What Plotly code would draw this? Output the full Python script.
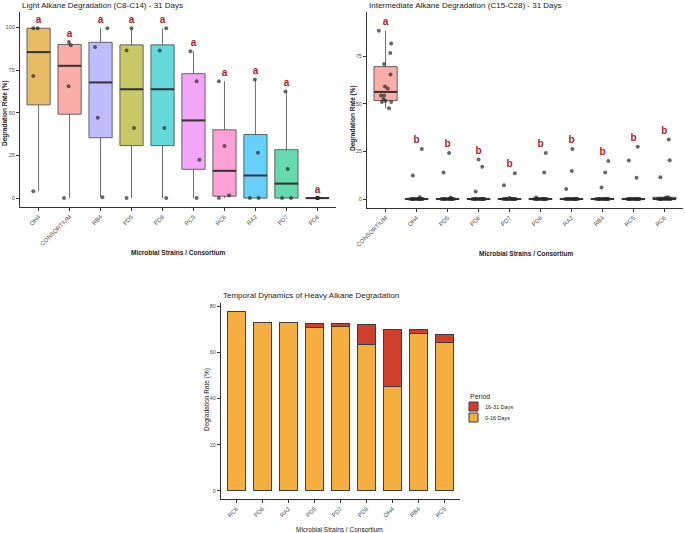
import numpy as np
import plotly.graph_objects as go

# ---------------- DATA ----------------
# Panel 1: Light alkane degradation (C8-C14), 31 days
light_categories = ["OH4", "CONSORTIUM", "RB4", "PD5", "PD8", "RC5", "RC6", "RA2", "PD7", "PD6"]
light_OH4 = [99.5, 99.5, 71.5, 4.0]
light_CONSORTIUM = [91.5, 89.5, 65.5, 0.0]
light_RB4 = [99.5, 88.5, 47.0, 0.5]
light_PD5 = [99.5, 86.5, 41.0, 0.0]
light_PD8 = [99.5, 86.5, 41.0, 0.0]
light_RC5 = [86.0, 68.5, 22.5, 0.0]
light_RC6 = [68.5, 30.5, 1.5, 0.0]
light_RA2 = [69.5, 26.5, 0.0, 0.0]
light_PD7 = [62.5, 17.0, 0.0, 0.0]
light_PD6 = [0.0, 0.0, 0.0, 0.0]
light_letters = ["a", "a", "a", "a", "a", "a", "a", "a", "a", "a"]

# Panel 2: Intermediate alkane degradation (C15-C28), 31 days
inter_categories = ["CONSORTIUM", "OH4", "PD5", "PD6", "PD7", "PD8", "RA2", "RB4", "RC5", "RC6"]
inter_CONSORTIUM = [88.4, 81.7, 76.7, 70.9, 65.4, 59.1, 58.1, 54.4, 54.4, 52.5, 50.9, 50.9, 47.7, 51.5]
inter_OH4 = [26.3, 12.3, 1.0, 0.0, 0.0, 0.0, 0.0, 0.0, 0.0, 0.0, 0.0, 0.0, 0.0, 0.0]
inter_PD5 = [24.2, 14.0, 0.8, 0.0, 0.0, 0.0, 0.0, 0.0, 0.0, 0.0, 0.0, 0.0, 0.0, 0.0]
inter_PD6 = [20.7, 17.0, 4.0, 0.0, 0.0, 0.0, 0.0, 0.0, 0.0, 0.0, 0.0, 0.0, 0.0, 0.0]
inter_PD7 = [13.5, 7.2, 0.5, 0.0, 0.0, 0.0, 0.0, 0.0, 0.0, 0.0, 0.0, 0.0, 0.0, 0.0]
inter_PD8 = [24.2, 14.0, 0.8, 0.0, 0.0, 0.0, 0.0, 0.0, 0.0, 0.0, 0.0, 0.0, 0.0, 0.0]
inter_RA2 = [26.3, 14.7, 5.3, 0.0, 0.0, 0.0, 0.0, 0.0, 0.0, 0.0, 0.0, 0.0, 0.0, 0.0]
inter_RB4 = [20.0, 14.0, 6.0, 0.0, 0.0, 0.0, 0.0, 0.0, 0.0, 0.0, 0.0, 0.0, 0.0, 0.0]
inter_RC5 = [27.4, 20.2, 11.2, 0.0, 0.0, 0.0, 0.0, 0.0, 0.0, 0.0, 0.0, 0.0, 0.0, 0.0]
inter_RC6 = [31.2, 20.4, 11.4, 1.0, 0.8, 0.0, 0.0, 0.0, 0.0, 0.0, 0.0, 0.0, 0.0, 0.0]
inter_letters = ["a", "b", "b", "b", "b", "b", "b", "b", "b", "b"]

# Panel 3: Temporal dynamics of heavy alkane degradation
heavy_categories = ["RC6", "PD6", "RA2", "PD5", "PD7", "PD8", "OH4", "RB4", "RC5"]
heavy_0_16 = [77.7, 72.9, 72.9, 70.6, 71.4, 63.5, 45.1, 68.0, 64.1]
heavy_16_31 = [0.0, 0.0, 0.0, 1.8, 0.9, 8.5, 24.9, 1.8, 3.6]
period_labels = ["16-31 Days", "0-16 Days"]

light_groups = [light_OH4, light_CONSORTIUM, light_RB4, light_PD5, light_PD8,
                light_RC5, light_RC6, light_RA2, light_PD7, light_PD6]
inter_groups = [inter_CONSORTIUM, inter_OH4, inter_PD5, inter_PD6, inter_PD7,
                inter_PD8, inter_RA2, inter_RB4, inter_RC5, inter_RC6]

# ---------------- POSITIONS / STYLES ----------------
light_jitter = [
    [-0.17, -0.03, -0.17, -0.17],
    [-0.02, 0.04, -0.03, -0.18],
    [0.22, -0.18, -0.09, 0.06],
    [0.0, -0.16, 0.08, -0.16],
    [0.12, -0.09, 0.06, 0.12],
    [-0.10, 0.10, 0.19, 0.10],
    [-0.18, 0.0, 0.15, -0.18],
    [-0.02, 0.08, -0.18, 0.10],
    [-0.03, 0.04, -0.14, 0.15],
    [-0.02, 0.02, 0.0, 0.01],
]
zero_spread = [-0.2, -0.14, -0.08, -0.02, 0.04, 0.1, 0.16, 0.2, -0.11, 0.07, 0.13]
inter_jitter = [
    [-0.22, 0.18, 0.15, -0.05, 0.16, -0.02, 0.07, -0.15, -0.05, -0.07, -0.12, 0.18, 0.11, 0.0],
    [0.17, -0.12, 0.10] + zero_spread,
    [0.05, -0.13, 0.10] + zero_spread,
    [0.0, 0.12, -0.09] + zero_spread,
    [0.17, -0.18, 0.0] + zero_spread,
    [0.17, 0.12, -0.14] + zero_spread,
    [0.03, 0.01, -0.17] + zero_spread,
    [0.19, 0.09, -0.03] + zero_spread,
    [0.14, -0.15, 0.10] + zero_spread,
    [0.14, 0.17, -0.13, 0.12, 0.05] + zero_spread[:9],
]

hue = {"CONSORTIUM": (248, 118, 109), "OH4": (216, 144, 0), "PD5": (163, 165, 0),
       "PD6": (57, 182, 0), "PD7": (0, 191, 125), "PD8": (0, 191, 196),
       "RA2": (0, 176, 246), "RB4": (149, 144, 255), "RC5": (231, 107, 243),
       "RC6": (255, 98, 188)}

FONT = "Liberation Sans"
W, H = 685, 533
AXCOL = "#333333"
TICKCOL = "#4d4d4d"
LETTER_COL = "#B2182B"
COL_EARLY = "#F5AF41"
COL_LATE = "#CF3F2E"
BAR_EDGE = "#3d3d3d"
BOX_W = 0.75

fig = go.Figure()


def add_box_panel(cats, groups, jitters, letters, xa, ya):
    tops = []
    for i, (c, vals, jit) in enumerate(zip(cats, groups, jitters)):
        v = np.array(vals, dtype=float)
        q1, med, q3 = np.percentile(v, [25, 50, 75])
        iqr = q3 - q1
        lo = v[v >= q1 - 1.5 * iqr].min()
        hi = v[v <= q3 + 1.5 * iqr].max()
        r, g, b = hue[c]
        fig.add_trace(go.Box(
            x=[i], q1=[q1], median=[med], q3=[q3], lowerfence=[lo], upperfence=[hi],
            width=BOX_W, whiskerwidth=0,
            fillcolor=f"rgba({r},{g},{b},0.6)",
            line=dict(color="rgba(60,60,60,0.75)", width=1),
            xaxis=xa, yaxis=ya, showlegend=False, hoverinfo="skip"))
        fig.add_trace(go.Scatter(
            x=[i - BOX_W / 2, i + BOX_W / 2], y=[med, med], mode="lines",
            line=dict(color="#333333", width=2), xaxis=xa, yaxis=ya,
            showlegend=False, hoverinfo="skip"))
        fig.add_trace(go.Scatter(
            x=i + np.array(jit), y=v, mode="markers",
            marker=dict(size=4, color="rgba(40,40,40,0.7)"),
            xaxis=xa, yaxis=ya, showlegend=False, hoverinfo="skip"))
        tops.append(v.max() + 4.5)
    fig.add_trace(go.Scatter(
        x=list(range(len(cats))), y=tops, mode="text",
        text=[f"<b>{t}</b>" for t in letters],
        textfont=dict(color=LETTER_COL, size=10, family=FONT),
        xaxis=xa, yaxis=ya, showlegend=False, hoverinfo="skip"))


add_box_panel(light_categories, light_groups, light_jitter, light_letters, "x", "y")
add_box_panel(inter_categories, inter_groups, inter_jitter, inter_letters, "x2", "y2")

fig.add_trace(go.Bar(
    x=list(range(len(heavy_categories))), y=heavy_0_16, width=0.7, name=period_labels[1],
    marker=dict(color=COL_EARLY, line=dict(color=BAR_EDGE, width=1)),
    xaxis="x3", yaxis="y3", showlegend=False))
fig.add_trace(go.Bar(
    x=list(range(len(heavy_categories))), y=heavy_16_31, width=0.7, name=period_labels[0],
    marker=dict(color=COL_LATE, line=dict(color=BAR_EDGE, width=1)),
    xaxis="x3", yaxis="y3", showlegend=False))


def px_x(a, b):
    return [a / W, b / W]


def px_y(top, bottom):
    return [1 - bottom / H, 1 - top / H]


def xaxis(dom, anchor, cats, size=6):
    return dict(domain=dom, anchor=anchor, range=[-0.6, len(cats) - 0.4],
                tickvals=list(range(len(cats))), ticktext=cats, tickangle=-45,
                showline=True, linecolor=AXCOL, linewidth=1, ticks="outside",
                ticklen=3, tickcolor=AXCOL, showgrid=False, zeroline=False,
                automargin=False,
                tickfont=dict(size=size, color=TICKCOL, family=FONT))


def yaxis(dom, anchor, rng, tv):
    return dict(domain=dom, anchor=anchor, range=rng, tickvals=tv,
                showline=True, linecolor=AXCOL, linewidth=1, ticks="outside",
                ticklen=3, tickcolor=AXCOL, showgrid=False, zeroline=False,
                automargin=False,
                tickfont=dict(size=5.5, color=TICKCOL, family=FONT))


fig.update_layout(
    width=W, height=H, margin=dict(l=0, r=0, t=0, b=0, autoexpand=False),
    paper_bgcolor="white", plot_bgcolor="white",
    boxmode="overlay", barmode="stack",
    font=dict(family=FONT, color="#222222"),
    showlegend=False,
    xaxis=xaxis(px_x(20, 336), "y", light_categories),
    yaxis=yaxis(px_y(12, 207), "x", [-5.2, 109], [0, 25, 50, 75, 100]),
    xaxis2=xaxis(px_x(367, 683), "y2", inter_categories),
    yaxis2=yaxis(px_y(12, 208), "x2", [-4.7, 98.2], [0, 25, 50, 75]),
    xaxis3=xaxis(px_x(221, 460), "y3", heavy_categories),
    yaxis3=yaxis(px_y(303, 499), "x3", [-3.6, 81.4], [0, 20, 40, 60, 80]),
)


def ann(text, x, y, size, bold=False, angle=0, xanchor="center", color="#222222"):
    fig.add_annotation(text=f"<b>{text}</b>" if bold else text, x=x / W, y=1 - y / H,
                       xref="paper", yref="paper", showarrow=False, textangle=angle,
                       xanchor=xanchor, yanchor="middle",
                       font=dict(size=size, family=FONT, color=color))


ann("Light Alkane Degradation (C8-C14) - 31 Days", 20, 5, 8, xanchor="left")
ann("Intermediate Alkane Degradation (C15-C28) - 31 Days", 367, 5, 8, xanchor="left")
ann("Temporal Dynamics of Heavy Alkane Degradation", 221, 295, 8, xanchor="left")
ann("Microbial Strains / Consortium", 178, 252, 6.5, bold=True)
ann("Microbial Strains / Consortium", 526, 253, 6.5, bold=True)
ann("Microbial Strains / Consortium", 339, 529, 6.5)
ann("Degradation Rate (%)", 5, 113, 6.5, bold=True, angle=-90)
ann("Degradation Rate (%)", 353, 118, 6.5, bold=True, angle=-90)
ann("Degradation Rate (%)", 207, 400, 6.5, angle=-90)

# Legend (Period)
ann("Period", 468, 396, 7, xanchor="left")
for label, col, ytop in [(period_labels[0], COL_LATE, 402), (period_labels[1], COL_EARLY, 413)]:
    fig.add_shape(type="rect", xref="paper", yref="paper",
                  x0=469 / W, x1=478 / W, y0=1 - (ytop + 9) / H, y1=1 - ytop / H,
                  fillcolor=col, line=dict(color=BAR_EDGE, width=1))
    ann(label, 483, ytop + 4.5, 5.5, xanchor="left")

fig.write_html("out.html")
